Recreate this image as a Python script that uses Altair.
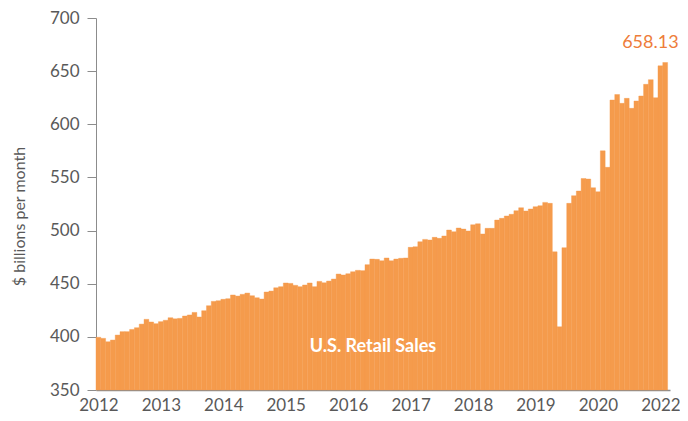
import altair as alt
import pandas as pd

# Monthly U.S. retail sales, $ billions
sales = [
    399.6, 398.6, 395.4, 397.0, 401.7, 404.9, 404.9, 407.0, 408.6, 412.0,
    416.5, 414.0, 412.4, 414.3, 415.6, 418.0, 417.0, 417.4, 419.6, 420.6,
    423.0, 418.7, 424.6, 429.3, 433.4, 434.0, 435.3, 435.9, 439.4, 438.4,
    440.0, 441.2, 438.7, 436.8, 435.6, 442.2, 443.1, 446.2, 447.2, 450.7,
    450.3, 448.5, 447.2, 448.8, 450.7, 447.2, 452.2, 450.9, 452.5, 454.4,
    459.1, 458.2, 459.4, 461.3, 462.6, 462.3, 467.9, 473.2, 472.9, 471.6,
    474.2, 471.6, 473.2, 473.9, 474.2, 484.2, 484.8, 489.5, 491.7, 491.1,
    493.6, 492.7, 494.9, 500.5, 498.9, 502.4, 501.4, 499.6, 505.5, 506.4,
    496.8, 502.1, 502.1, 509.9, 511.5, 513.7, 515.3, 518.7, 521.5, 518.4,
    520.3, 522.5, 523.4, 526.5, 525.6, 480.0, 409.5, 483.9, 525.6, 532.8,
    537.2, 549.0, 548.5, 540.3, 536.5, 575.0, 559.5, 622.8, 628.0, 619.7,
    624.4, 615.0, 621.9, 626.6, 637.6, 642.0, 625.0, 655.0, 658.13,
]

year_labels = ["2012", "2013", "2014", "2015", "2016", "2017", "2018", "2019", "2020", "2022"]
y_ticks = [350, 400, 450, 500, 550, 600, 650, 700]

n = len(sales)
df = pd.DataFrame({"i": list(range(n)), "i2": [k + 1 for k in range(n)], "v": sales})
last = df.tail(1).copy()
last["label"] = [f"{sales[-1]:.2f}"]

tick_pos = [0.5 + 13 * k for k in range(len(year_labels))]
label_map = "{" + ",".join(f'"{p}":"{lab}"' for p, lab in zip(tick_pos, year_labels)) + "}"

BAR = "#F59B4C"
GREY = "#595959"
FONT = "Lato"

xscale = alt.Scale(domain=[0, n + 0.5], nice=False, zero=False)
yscale = alt.Scale(domain=[350, 700], nice=False, zero=False)

bars = alt.Chart(df).mark_bar(color=BAR, stroke=BAR, strokeWidth=0.4).encode(
    x=alt.X("i:Q", scale=xscale,
            axis=alt.Axis(values=tick_pos, labelExpr=f"{label_map}[''+datum.value]",
                          ticks=False, grid=False, title=None, labelPadding=7,
                          labelFontSize=17, labelColor=GREY, labelFont=FONT,
                          domainColor="#8c8c8c", domainWidth=1.5, labelFlush=False)),
    x2="i2:Q",
    y=alt.Y("v:Q", scale=yscale,
            axis=alt.Axis(values=y_ticks, grid=False, title="$ billions per month",
                          tickSize=9, tickColor="#8c8c8c", domainColor="#8c8c8c",
                          labelPadding=8, labelFontSize=17, labelColor=GREY, labelFont=FONT,
                          titleFontSize=16, titleColor=GREY, titleFont=FONT,
                          titleFontWeight="normal", titleX=-69, titleY=198)),
    y2=alt.datum(350),
)

last_label = alt.Chart(last).mark_text(
    align="right", baseline="alphabetic", dx=11, dy=-15,
    fontSize=18, color="#EE7D3A", font=FONT
).encode(x="i2:Q", y="v:Q", text="label:N")

series_label = alt.Chart(pd.DataFrame({"t": ["U.S. Retail Sales"]})).mark_text(
    align="center", baseline="middle", fontSize=18, fontWeight="bold",
    color="white", font=FONT
).encode(x=alt.value(277), y=alt.value(329), text="t:N")

chart = alt.layer(bars, last_label, series_label).properties(
    width=574, height=372,
    autosize=alt.AutoSizeParams(type="none"),
    padding={"left": 88, "top": 10, "right": 10, "bottom": 23},
).configure_view(stroke=None)

chart.save("out.html", embed_options={"renderer": "svg", "actions": False})
